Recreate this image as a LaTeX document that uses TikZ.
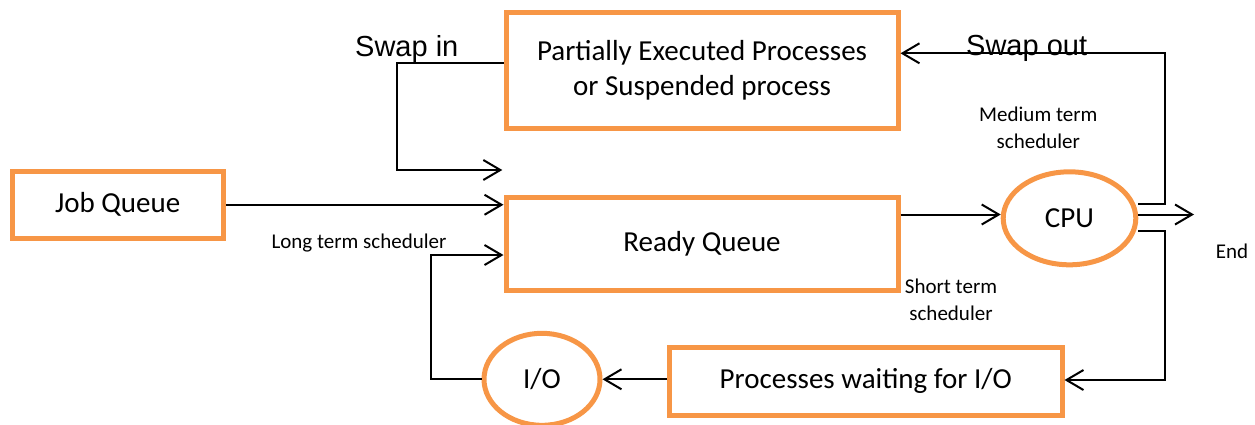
\documentclass[tikz,border=0pt]{standalone}
\usepackage{fontspec}
\setmainfont{Carlito}
\newfontfamily\arialfont{Liberation Sans}
\usetikzlibrary{arrows.meta,shapes.geometric,calc}
\definecolor{boxorange}{HTML}{F79646}
\begin{document}
\begin{tikzpicture}[x=1pt,y=-1pt,
  stage/.style={draw=boxorange, line width=5pt, rectangle, inner sep=0pt, align=center,
    font=\fontsize{29}{35}\selectfont},
  unit/.style={draw=boxorange, line width=5pt, ellipse, inner sep=0pt,
    font=\fontsize{29}{35}\selectfont},
  conn/.style={line width=2pt, -{Straight Barb[length=17pt,width=20pt]}},
  note/.style={font=\fontsize{21}{26.5}\selectfont, align=center, inner sep=0pt, anchor=base},
  swaplabel/.style={font=\arialfont\fontsize{29}{34}\selectfont, inner sep=0pt, anchor=base west}]
\clip (0,0) rectangle (1255,424);

% queues and processing units
\node[stage, minimum width=392pt, minimum height=116pt] (part) at (702,70)
  {Partially Executed Processes\\or Suspended process};
\node[stage, minimum width=392pt, minimum height=93.5pt] (ready) at (702,243.75) {Ready Queue};
\node[stage, minimum width=211.5pt, minimum height=67.5pt] (job) at (117.75,204.75) {Job Queue};
\node[stage, minimum width=392.5pt, minimum height=68.5pt] (wait) at (865.75,381.25)
  {Processes waiting for I/O};
\node[unit, minimum width=132.6pt, minimum height=93pt] (cpu) at (1069.5,218.3) {CPU};
\node[unit, minimum width=116pt, minimum height=92pt] (io) at (542,379.3) {I/O};

% labels (base anchor sits on the last line)
\node[swaplabel] (swapin) at (355,56) {Swap in};
\node[swaplabel] (swapout) at (966,55) {Swap out};
\node[note] (mts) at (1038.3,148.3) {Medium term\\scheduler};
\node[note] (sts) at (951,320) {Short term\\scheduler};
\node[note] (lts) at (359,248.3) {Long term scheduler};
\node[note] (endlbl) at (1232,258.3) {End};

% bend points and free ends
\coordinate (swapinBend) at (397.3,62.7);
\coordinate (swapinEnd) at (502.3,170);
\coordinate (ltBend) at (430.7,255);
\coordinate (outBend) at (1165,53.3);
\coordinate (endTip) at (1194,214.5);
\coordinate (downBend) at (1165,380);

% connectors
\draw[conn] (part.west |- swapinBend) -- (swapinBend) |- (swapinEnd);
\draw[conn] (job.east) -- (ready.west |- job.east);
\draw[conn] (io.west) -| (ltBend) -- (ready.west |- ltBend);
\draw[conn] ([yshift=29.25pt]ready.east) -- ([yshift=3.8pt]cpu.west);
\draw[conn] ([yshift=14.3pt]cpu.east) -| (outBend) -- (part.east |- outBend);
\draw[conn] ([yshift=3.8pt]cpu.east) -- (endTip);
\draw[conn] ([yshift=-12.4pt]cpu.east) -| (downBend) -- (wait.east |- downBend);
\draw[conn] (wait.west |- io.east) -- (io.east);
\end{tikzpicture}
\end{document}
